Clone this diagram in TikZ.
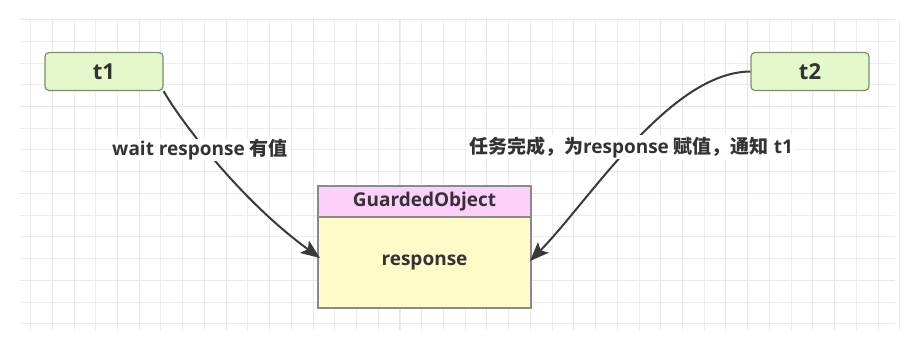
\documentclass[tikz,border=0pt]{standalone}
\usepackage{fontspec}
\setmainfont{Open Sans}
\newfontfamily\cjk{Noto Sans CJK SC}
\usetikzlibrary{arrows.meta}
\definecolor{gridc}{HTML}{ECECEC}
\definecolor{gridd}{HTML}{E6E6E6}
\definecolor{tfill}{HTML}{E5F8CC}
\definecolor{tdraw}{HTML}{7E8C70}
\definecolor{hfill}{HTML}{FDD0FC}
\definecolor{bfill}{HTML}{FFFBC8}
\definecolor{bdraw}{HTML}{8A8A8A}
\definecolor{txt}{HTML}{333333}
\definecolor{arr}{HTML}{3A3A3A}
\tikzset{
  tnode/.style={draw=tdraw, fill=tfill, line width=1.2pt, rounded corners=4pt,
    minimum width=118pt, minimum height=38pt, inner sep=0pt,
    font=\fontsize{22}{26}\selectfont\bfseries, text=txt},
  hbox/.style={draw=bdraw, fill=hfill, line width=1.2pt,
    minimum width=213pt, minimum height=31pt, inner sep=0pt,
    font=\fontsize{19}{22}\selectfont\bfseries, text=txt},
  bbox/.style={draw=bdraw, fill=bfill, line width=1.2pt,
    minimum width=213pt, minimum height=91pt, inner sep=0pt,
    font=\fontsize{19}{22}\selectfont\bfseries, text=txt},
  lbl/.style={font=\fontsize{19}{22}\selectfont\bfseries, text=txt, fill=white, inner sep=1pt},
  conn/.style={draw=arr, line width=2pt, -{Stealth[length=19pt,width=15pt,inset=4pt]}}
}
\begin{document}
\begin{tikzpicture}[x=1pt,y=-1pt]
\useasboundingbox (0,0) rectangle (910,348);
\fill[white] (0,0) rectangle (910,348);
% grid
\foreach \i in {0,...,40} {
  \pgfmathsetmacro{\xx}{30.5+21.73*\i}
  \draw[gridc, line width=0.8pt] (\xx,20) -- (\xx,330);
}
\foreach \i in {0,...,14} {
  \pgfmathsetmacro{\yy}{19.5+21.73*\i}
  \draw[gridc, line width=0.8pt] (20,\yy) -- (895,\yy);
}
\foreach \i in {0,...,9} {
  \pgfmathsetmacro{\xx}{52.2+86.9*\i}
  \draw[gridd, line width=0.8pt] (\xx,20) -- (\xx,330);
}
\foreach \i in {0,...,3} {
  \pgfmathsetmacro{\yy}{19.5+86.9*\i}
  \draw[gridd, line width=0.8pt] (20,\yy) -- (895,\yy);
}
% nodes
\node[tnode] (t1) at (104,71.5) {t1};
\node[tnode] (t2) at (810,71.5) {t2};
\node[hbox] (h) at (424.5,201.5) {GuardedObject};
\node[bbox] (b) at (424.5,262.5) {response};
\coordinate (e1) at (320,258);
\coordinate (e2) at (530,261);
% connectors
\draw[conn] (t1.south east) .. controls (180,120) and (240,200) .. (e1);
\draw[conn] (t2.west) .. controls (670,72) and (590,200) .. (e2);
% labels
\node[lbl] (l1) at (200,150) {wait response {\cjk 有值}};
\node[lbl] (l2) at (631,147) {{\cjk 任务完成，为}response {\cjk 赋值，通知} t1};
\end{tikzpicture}
\end{document}
